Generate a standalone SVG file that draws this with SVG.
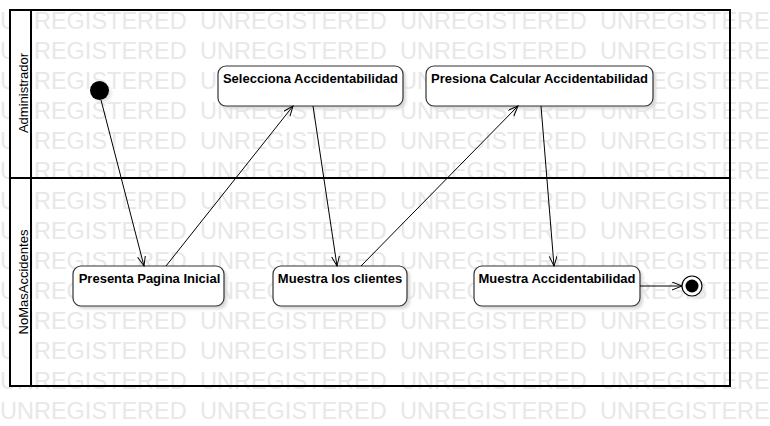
<svg xmlns="http://www.w3.org/2000/svg" width="770" height="426" viewBox="0 0 770 426">
<style>
.wm{font-family:"Liberation Sans",Arial,sans-serif;font-size:23.5px;fill:#e8e8e8}
.frame{fill:none;stroke:#000;stroke-width:2}
.hdr{fill:#fff;stroke:none}
.lane{font-family:"Liberation Sans",Arial,sans-serif;font-size:13px;fill:#000;text-anchor:middle}
.node rect.box{fill:#fff;stroke:#333;stroke-width:1.2}
.node rect.sh{fill:#d8d8d8;filter:url(#blur)}
.node text{font-family:"Liberation Sans",Arial,sans-serif;font-size:13px;font-weight:bold;fill:#000;text-anchor:middle}
.conn{stroke:#000;stroke-width:1;fill:none;marker-end:url(#arr)}
</style>
<defs>
<filter id="blur" x="-10%" y="-20%" width="120%" height="140%"><feGaussianBlur stdDeviation="1.5"/></filter>
<marker id="arr" markerWidth="12" markerHeight="10" refX="10" refY="4" orient="auto" markerUnits="userSpaceOnUse">
<path d="M0,0 L10,4 L0,8" fill="none" stroke="#000" stroke-width="1"/>
</marker>
</defs>
<rect x="0" y="0" width="770" height="426" fill="#fff"/>
<g id="watermark">
<text class="wm" y="29.3"><tspan x="0">UNREGISTERED</tspan><tspan x="200">UNREGISTERED</tspan><tspan x="400">UNREGISTERED</tspan><tspan x="600">UNREGISTERED</tspan></text>
<text class="wm" y="59.3"><tspan x="0">UNREGISTERED</tspan><tspan x="200">UNREGISTERED</tspan><tspan x="400">UNREGISTERED</tspan><tspan x="600">UNREGISTERED</tspan></text>
<text class="wm" y="89.3"><tspan x="0">UNREGISTERED</tspan><tspan x="200">UNREGISTERED</tspan><tspan x="400">UNREGISTERED</tspan><tspan x="600">UNREGISTERED</tspan></text>
<text class="wm" y="119.3"><tspan x="0">UNREGISTERED</tspan><tspan x="200">UNREGISTERED</tspan><tspan x="400">UNREGISTERED</tspan><tspan x="600">UNREGISTERED</tspan></text>
<text class="wm" y="149.3"><tspan x="0">UNREGISTERED</tspan><tspan x="200">UNREGISTERED</tspan><tspan x="400">UNREGISTERED</tspan><tspan x="600">UNREGISTERED</tspan></text>
<text class="wm" y="179.3"><tspan x="0">UNREGISTERED</tspan><tspan x="200">UNREGISTERED</tspan><tspan x="400">UNREGISTERED</tspan><tspan x="600">UNREGISTERED</tspan></text>
<text class="wm" y="209.3"><tspan x="0">UNREGISTERED</tspan><tspan x="200">UNREGISTERED</tspan><tspan x="400">UNREGISTERED</tspan><tspan x="600">UNREGISTERED</tspan></text>
<text class="wm" y="239.3"><tspan x="0">UNREGISTERED</tspan><tspan x="200">UNREGISTERED</tspan><tspan x="400">UNREGISTERED</tspan><tspan x="600">UNREGISTERED</tspan></text>
<text class="wm" y="269.3"><tspan x="0">UNREGISTERED</tspan><tspan x="200">UNREGISTERED</tspan><tspan x="400">UNREGISTERED</tspan><tspan x="600">UNREGISTERED</tspan></text>
<text class="wm" y="299.3"><tspan x="0">UNREGISTERED</tspan><tspan x="200">UNREGISTERED</tspan><tspan x="400">UNREGISTERED</tspan><tspan x="600">UNREGISTERED</tspan></text>
<text class="wm" y="329.3"><tspan x="0">UNREGISTERED</tspan><tspan x="200">UNREGISTERED</tspan><tspan x="400">UNREGISTERED</tspan><tspan x="600">UNREGISTERED</tspan></text>
<text class="wm" y="359.3"><tspan x="0">UNREGISTERED</tspan><tspan x="200">UNREGISTERED</tspan><tspan x="400">UNREGISTERED</tspan><tspan x="600">UNREGISTERED</tspan></text>
<text class="wm" y="389.3"><tspan x="0">UNREGISTERED</tspan><tspan x="200">UNREGISTERED</tspan><tspan x="400">UNREGISTERED</tspan><tspan x="600">UNREGISTERED</tspan></text>
<text class="wm" y="419.3"><tspan x="0">UNREGISTERED</tspan><tspan x="200">UNREGISTERED</tspan><tspan x="400">UNREGISTERED</tspan><tspan x="600">UNREGISTERED</tspan></text>
</g>
<g id="swimlanes">
<rect class="hdr" x="10" y="10" width="21" height="376"/>
<rect class="frame" x="10" y="10" width="720" height="376"/>
<line x1="10" y1="178" x2="730" y2="178" stroke="#000" stroke-width="2"/>
<line x1="31" y1="10" x2="31" y2="386" stroke="#000" stroke-width="2"/>
<text class="lane" transform="translate(27.5,93) rotate(-90)">Administrador</text>
<text class="lane" transform="translate(27.5,282) rotate(-90)">NoMasAccidentes</text>
</g>
<g id="initial" class="node">
<circle cx="102" cy="93" r="9.5" fill="#e4e4e4" filter="url(#blur)"/>
<circle cx="99.5" cy="90.5" r="9.5" fill="#000"/>
</g>
<g id="n_selecciona" class="node">
<rect class="sh" x="221" y="69" width="185" height="40" rx="8"/>
<rect class="box" x="218" y="66" width="185" height="40" rx="8"/>
<text x="310.5" y="83">Selecciona Accidentabilidad</text>
</g>
<g id="n_presiona" class="node">
<rect class="sh" x="429" y="69" width="227" height="40" rx="8"/>
<rect class="box" x="426" y="66" width="227" height="40" rx="8"/>
<text x="539.5" y="83">Presiona Calcular Accidentabilidad</text>
</g>
<g id="n_presenta" class="node">
<rect class="sh" x="76" y="269" width="151" height="40" rx="8"/>
<rect class="box" x="73" y="266" width="151" height="40" rx="8"/>
<text x="149.5" y="283">Presenta Pagina Inicial</text>
</g>
<g id="n_clientes" class="node">
<rect class="sh" x="276" y="269" width="134" height="40" rx="8"/>
<rect class="box" x="273" y="266" width="134" height="40" rx="8"/>
<text x="340" y="283">Muestra los clientes</text>
</g>
<g id="n_muestra_acc" class="node">
<rect class="sh" x="477" y="269" width="166" height="40" rx="8"/>
<rect class="box" x="474" y="266" width="166" height="40" rx="8"/>
<text x="557" y="283">Muestra Accidentabilidad</text>
</g>
<g id="final" class="node">
<circle cx="695" cy="289" r="10" fill="#e4e4e4" filter="url(#blur)"/>
<circle cx="692" cy="286" r="10" fill="#fff" stroke="#000" stroke-width="1.2"/>
<circle cx="692" cy="286" r="6.5" fill="#000"/>
</g>
<g id="connectors">
<line class="conn" x1="101" y1="100" x2="144" y2="266"/>
<line class="conn" x1="166" y1="266" x2="293" y2="106"/>
<line class="conn" x1="313" y1="106" x2="337" y2="266"/>
<line class="conn" x1="361" y1="266" x2="518" y2="106"/>
<line class="conn" x1="541" y1="106" x2="554" y2="266"/>
<line class="conn" x1="640" y1="286" x2="682" y2="286" stroke="#444" stroke-width="1.5"/>
</g>
</svg>
